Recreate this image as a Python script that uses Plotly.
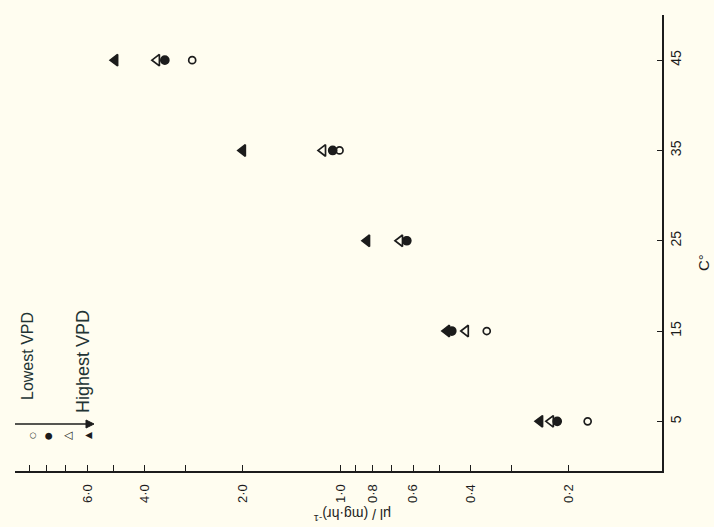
import plotly.graph_objects as go

# ---- data ----
temperatures = [5, 15, 25, 35, 45]
rate_lowest_vpd = [0.175, 0.357, 0.628, 1.01, 2.86]    # open circle
rate_low_vpd = [0.217, 0.457, 0.628, 1.06, 3.47]       # filled circle
rate_high_vpd = [0.227, 0.414, 0.659, 1.135, 3.67]     # open triangle
rate_highest_vpd = [0.245, 0.473, 0.832, 2.0, 4.93]    # filled triangle

rate_tick_values = [0.2, 0.4, 0.6, 0.8, 1.0, 2.0, 4.0, 6.0]
rate_tick_labels = ["0·2", "0·4", "0·6", "0·8", "1·0", "2·0", "4·0", "6·0"]
rate_minor_values = [0.3, 0.5, 0.7, 0.9, 3.0, 5.0, 7.0, 8.0, 9.0]
temp_tick_values = [5, 15, 25, 35, 45]
temp_tick_labels = ["5", "15", "25", "35", "45"]

# ---- layout geometry ----
FIG_W, FIG_H = 714, 527
L, R, T, B = 15, 52, 15, 56
PW = FIG_W - L - R
PH = FIG_H - T - B
INK = "#1c1c1c"
BG = "#fffdf0"
FONT = "Liberation Sans, Arial, sans-serif"


def px(x):
    return (x - L) / PW


def py(y):
    return (FIG_H - B - y) / PH


fig = go.Figure()

series = [
    (rate_highest_vpd, "triangle-left", 10, INK, "Highest VPD"),
    (rate_high_vpd, "triangle-left-open", 10, INK, "High VPD"),
    (rate_low_vpd, "circle", 8, INK, "Low VPD"),
    (rate_lowest_vpd, "circle-open", 7, INK, "Lowest VPD"),
]
for vals, sym, size, col, name in series:
    fig.add_trace(go.Scatter(
        x=vals, y=temperatures, mode="markers", name=name,
        marker=dict(symbol=sym, size=size, color=col,
                    line=dict(color=col, width=1.7)),
        showlegend=False,
    ))

fig.update_xaxes(
    type="log", range=[1.0, -0.985],
    tickvals=rate_tick_values, ticktext=rate_tick_labels,
    tickangle=-90, ticks="inside", ticklen=6, tickwidth=1, tickcolor=INK,
    minor=dict(tickvals=rate_minor_values, ticks="inside", ticklen=6,
               tickwidth=1, tickcolor=INK, showgrid=False),
    showline=True, linecolor=INK, linewidth=2, showgrid=False, zeroline=False,
    tickfont=dict(family=FONT, size=13, color=INK), ticklabelstandoff=6,
    mirror=False,
)
fig.update_yaxes(
    range=[-0.5, 50], side="right",
    tickvals=temp_tick_values, ticktext=temp_tick_labels,
    tickangle=-90, ticks="inside", ticklen=5, tickwidth=1, tickcolor=INK,
    showline=True, linecolor=INK, linewidth=2, showgrid=False, zeroline=False,
    tickfont=dict(family=FONT, size=14, color=INK),
)

ann = []


def label(x, y, text, angle, size, color=INK, family=FONT):
    ann.append(dict(x=px(x), y=py(y), xref="paper", yref="paper", text=text,
                    showarrow=False, textangle=angle,
                    xanchor="center", yanchor="middle",
                    font=dict(family=family, size=size, color=color)))


# axis titles
label(703, 263, "C°", -90, 15)
label(352, 515, "μl / (mg·hr)<sup>-1</sup>", 180, 14)
# legend texts
label(27, 356, "Lowest VPD", -90, 16, "#233")
label(83, 362, "Highest VPD", -90, 18, "#233")
# legend symbols
for xs, glyph, fs in [(32, "○", 8), (48, "●", 9), (67, "△", 11), (88, "▲", 9)]:
    label(xs, 436, glyph, -90, fs, INK, "DejaVu Sans")

# arrow (line + head) between the legend texts
shapes = [
    dict(type="line", xref="paper", yref="paper",
         x0=px(15), y0=py(424), x1=px(88), y1=py(424),
         line=dict(color=INK, width=1.6)),
    dict(type="path", xref="paper", yref="paper",
         path=f"M {px(86)} {py(420)} L {px(94)} {py(424)} L {px(86)} {py(428)} Z",
         fillcolor=INK, line=dict(color=INK, width=1)),
]

fig.update_layout(
    width=FIG_W, height=FIG_H,
    margin=dict(l=L, r=R, t=T, b=B, pad=0, autoexpand=False),
    paper_bgcolor=BG, plot_bgcolor=BG,
    annotations=ann, shapes=shapes, showlegend=False,
)

fig.write_html(
    "out.html",
    config={"displayModeBar": False},
    post_script="document.body.style.margin='0';"
                "document.body.style.background='#fffdf0';",
)
